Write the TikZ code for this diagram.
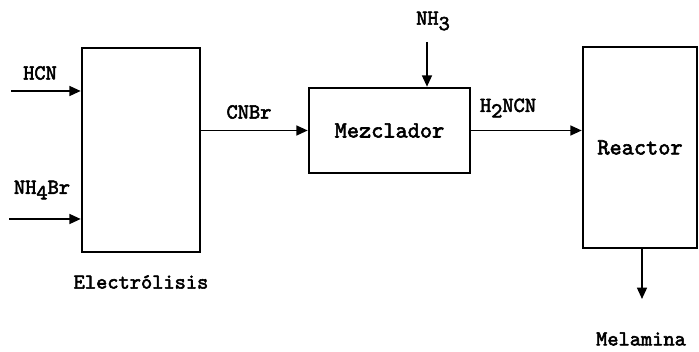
\documentclass[tikz,border=0pt]{standalone}
\usepackage{fontspec}
\setmonofont{lmmono10-regular.otf}[FakeBold=2.5,BoldFont=lmmono10-regular.otf,BoldFeatures={FakeBold=2.5}]
\usepackage{tikz}
\usetikzlibrary{arrows.meta,positioning,calc}
\newcommand{\lowr}[1]{\raisebox{-0.6ex}{#1}}
\tikzset{
  unit/.style={rectangle, draw, line width=1.8pt, inner sep=0pt,
               font=\fontsize{16.5}{19}\selectfont\ttfamily},
  flow/.style={-{Triangle[length=8pt,width=7pt]}, line width=1.2pt},
  stream/.style={font=\fontsize{15.2}{18}\selectfont\ttfamily},
}

\begin{document}
\begin{tikzpicture}[x=0.025cm,y=-0.025cm]
  \useasboundingbox (0,0) rectangle (699,352);
  % units
  \node[unit, minimum width=2.95cm, minimum height=5.1cm] (elec) at (141,150) {};
  \node[unit, minimum width=4.025cm, minimum height=2.125cm] (mez) at (389.5,130.5) {Mezclador};
  \node[unit, minimum width=2.85cm, minimum height=5.025cm] (reac) at (640,147.5) {Reactor};
  \node[stream] (elecl) at (141,282) {Electrólisis};
  % free ends
  \coordinate (hcnin) at (11,91);
  \coordinate (nh4in) at (9,219);
  \coordinate (nh3in) at (427,42);
  \coordinate (melout) at (642,299);
  % streams
  \draw[flow] (hcnin) -- (elec.west |- hcnin);
  \node[stream] (hcn) at (40,73) {HCN};
  \draw[flow] (nh4in) -- (elec.west |- nh4in);
  \node[stream] (nh4br) at (42,190) {NH\lowr{4}Br};
  \draw[flow] (elec.east |- mez.west) -- (mez.west);
  \node[stream] (cnbr) at (249,112) {CNBr};
  \draw[flow] (nh3in) -- (mez.north -| nh3in);
  \node[stream] (nh3) at (433,21) {NH\lowr{3}};
  \draw[flow] (mez.east) -- (reac.west |- mez.east);
  \node[stream] (hncn) at (508,108) {H\lowr{2}NCN};
  \draw[flow] (reac.south -| melout) -- (melout);
  \node[stream] (mel) at (641,339) {Melamina};
\end{tikzpicture}
\end{document}
